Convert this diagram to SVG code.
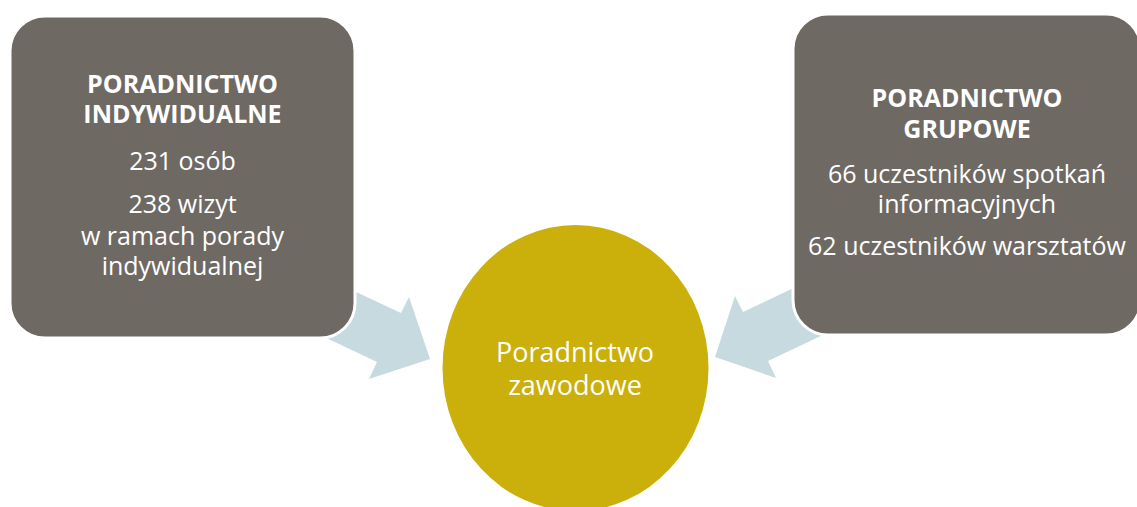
<svg xmlns="http://www.w3.org/2000/svg" width="1137" height="507" viewBox="0 0 1137 507">
<style>
.box{fill:#6F6964;stroke:#FFFFFF;stroke-width:3}
.arrow{fill:#C6DAE0}
.t{font-family:"Open Sans","Liberation Sans",sans-serif;font-size:25px;fill:#FFFFFF;text-anchor:middle}
.b{font-weight:bold}
.c{font-size:27px}
</style>
<rect width="1137" height="507" fill="#FFFFFF"/>
<g id="connectors">
<polygon class="arrow" points="324,277 401,313 409,297 430,359 369,379 377,362 299,325"/>
<polygon class="arrow" points="821,275 743,312 735,296 715,357 776,378 768,361 846,324"/>
</g>
<g id="node-indywidualne">
<rect class="box" x="10" y="16" width="345" height="322" rx="35" ry="35"/>
<text class="t b" x="182.5" y="93">PORADNICTWO</text>
<text class="t b" x="182.5" y="123">INDYWIDUALNE</text>
<text class="t" x="182.5" y="170">231 osób</text>
<text class="t" x="182.5" y="213">238 wizyt</text>
<text class="t" x="182.5" y="245">w ramach porady</text>
<text class="t" x="182.5" y="275">indywidualnej</text>
</g>
<g id="node-grupowe">
<rect class="box" x="793" y="14" width="348" height="321" rx="35" ry="35"/>
<text class="t b" x="967" y="107">PORADNICTWO</text>
<text class="t b" x="967" y="138">GRUPOWE</text>
<text class="t" x="967" y="183">66 uczestników spotkań</text>
<text class="t" x="967" y="213">informacyjnych</text>
<text class="t" x="967" y="255">62 uczestników warsztatów</text>
</g>
<g id="node-zawodowe">
<ellipse cx="575.5" cy="368" rx="133" ry="143" fill="#CBAF0B"/>
<text class="t c" x="575" y="362">Poradnictwo</text>
<text class="t c" x="575" y="395">zawodowe</text>
</g>
</svg>
